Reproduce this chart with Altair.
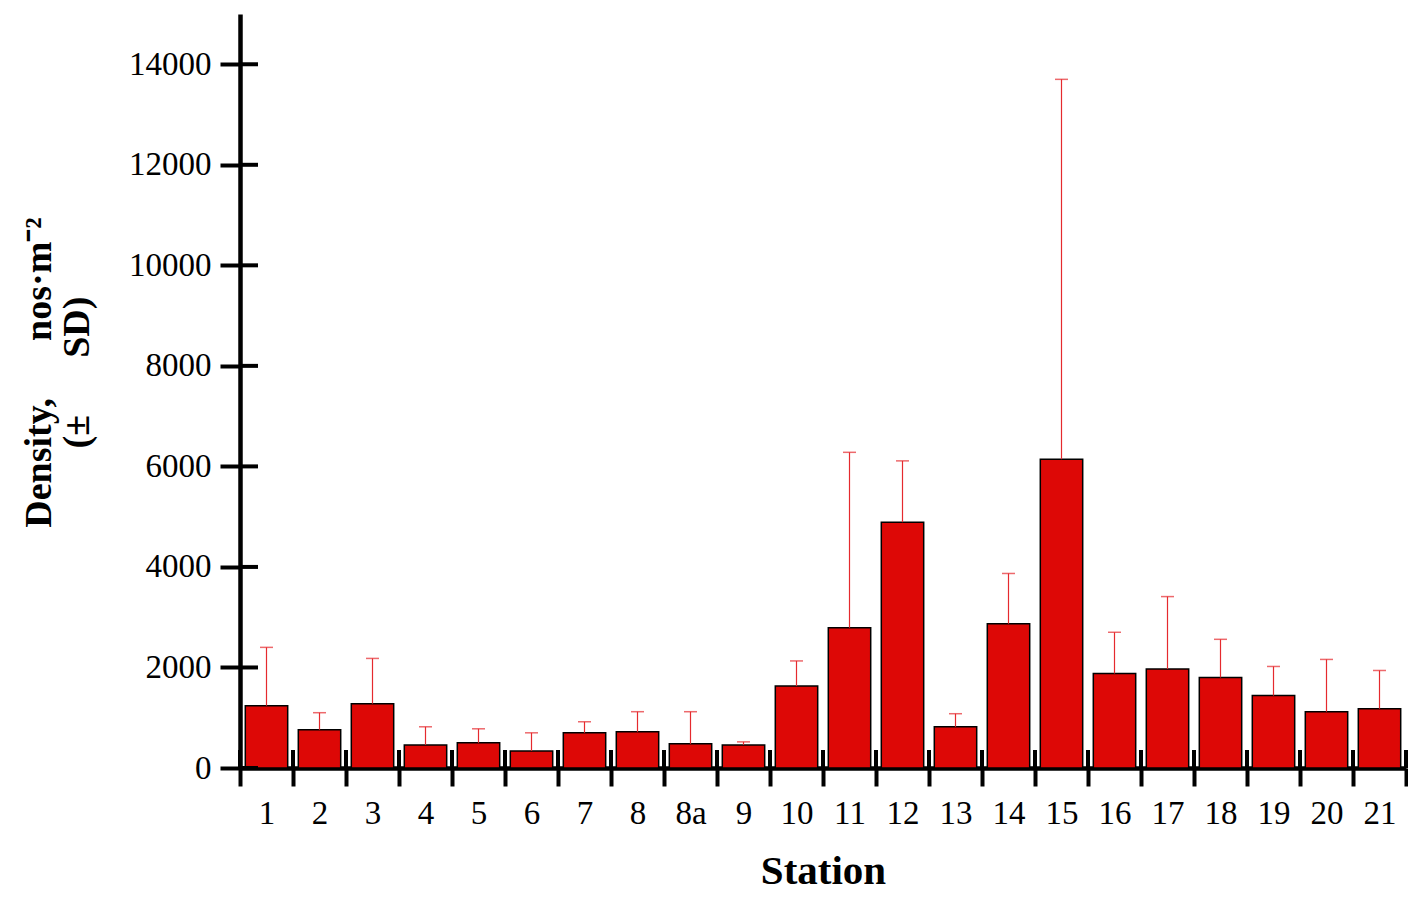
import altair as alt
import pandas as pd

stations = ["1", "2", "3", "4", "5", "6", "7", "8", "8a", "9", "10",
            "11", "12", "13", "14", "15", "16", "17", "18", "19", "20", "21"]
means = [1240, 760, 1280, 460, 500, 340, 700, 720, 480, 460, 1630,
         2790, 4890, 820, 2870, 6140, 1880, 1970, 1800, 1440, 1120, 1180]
sds = [1160, 340, 900, 360, 280, 360, 220, 400, 640, 60, 500,
       3490, 1220, 260, 1000, 7560, 820, 1440, 760, 580, 1040, 760]
y_tick_values = [0, 2000, 4000, 6000, 8000, 10000, 12000, 14000]

title_line1 = "Density,\u00a0\u00a0\u00a0\u00a0\u00a0 nos\u00b7m\u207b\u00b2"
title_line2 = "(\u00b1\u00a0\u00a0\u00a0\u00a0\u00a0 SD)"

W, H = 1166, 754
FONT = "Liberation Serif"
BAR_RED = "#DD0806"
ERR_RED = "#e52a2e"

df = pd.DataFrame({"Station": stations, "Mean": means, "SD": sds})
df["Upper"] = df["Mean"] + df["SD"]
ticks_df = pd.DataFrame({"v": y_tick_values})
last_df = df.tail(1)

xscale = alt.Scale(paddingInner=0, paddingOuter=0)
yscale = alt.Scale(domain=[0, 15000], nice=False)

x_axis = alt.Axis(
    title="Station", tickBand="extent", tickSize=18, tickWidth=4,
    tickColor="black", domainWidth=4.5, domainColor="black", labelAngle=0,
    labelFont=FONT, labelFontSize=33, labelColor="black",
    labelBaseline="alphabetic", labelPadding=37,
    titleFont=FONT, titleFontSize=41, titleFontWeight="bold",
    titleColor="black", titleBaseline="alphabetic", titleY=115,
    titleX=W / 2, titleAlign="center", grid=False,
)

y_axis = alt.Axis(
    title=[title_line1, title_line2], values=y_tick_values, format="d",
    tickSize=20, tickWidth=4, tickColor="black", domainWidth=4.5,
    domainColor="black", labelFont=FONT, labelFontSize=33,
    labelColor="black", labelPadding=9, grid=False,
    titleFont=FONT, titleFontSize=38, titleFontWeight="bold",
    titleColor="black", titleAngle=-90, titleBaseline="alphabetic",
    titleAlign="center", titleX=-190, titleY=358, titleLineHeight=38,
)

bars = alt.Chart(df).mark_bar(
    fill=BAR_RED, stroke="black", strokeWidth=1.5, width={"band": 0.8}
).encode(
    x=alt.X("Station:N", sort=stations, scale=xscale, axis=x_axis),
    y=alt.Y("Mean:Q", scale=yscale, axis=y_axis),
)

err = alt.Chart(df).mark_rule(color=ERR_RED, strokeWidth=1.2).encode(
    x=alt.X("Station:N", sort=stations),
    y=alt.Y("Mean:Q"),
    y2="Upper:Q",
)

caps = alt.Chart(df).mark_tick(
    color=ERR_RED, thickness=1.5, size=13, orient="horizontal"
).encode(
    x=alt.X("Station:N", sort=stations),
    y=alt.Y("Upper:Q"),
)

ytick_inner = alt.Chart(ticks_df).mark_rule(color="black", strokeWidth=4).encode(
    y=alt.Y("v:Q"), x=alt.value(0), x2=alt.value(18)
)

xtick_inner = alt.Chart(df).mark_rule(color="black", strokeWidth=4).encode(
    x=alt.X("Station:N", sort=stations, bandPosition=0),
    y=alt.value(H - 18), y2=alt.value(H),
)

xtick_last = alt.Chart(last_df).mark_rule(color="black", strokeWidth=4).encode(
    x=alt.X("Station:N", sort=stations, bandPosition=1),
    y=alt.value(H - 18), y2=alt.value(H),
)

chart = alt.layer(bars, err, caps, ytick_inner, xtick_inner, xtick_last).properties(
    width=W, height=H,
    autosize=alt.AutoSizeParams(type="none"),
    padding={"left": 232, "top": 6, "right": 2, "bottom": 123},
).configure_view(strokeWidth=0)

chart.save("out.html", embed_options={"renderer": "svg", "actions": False})
